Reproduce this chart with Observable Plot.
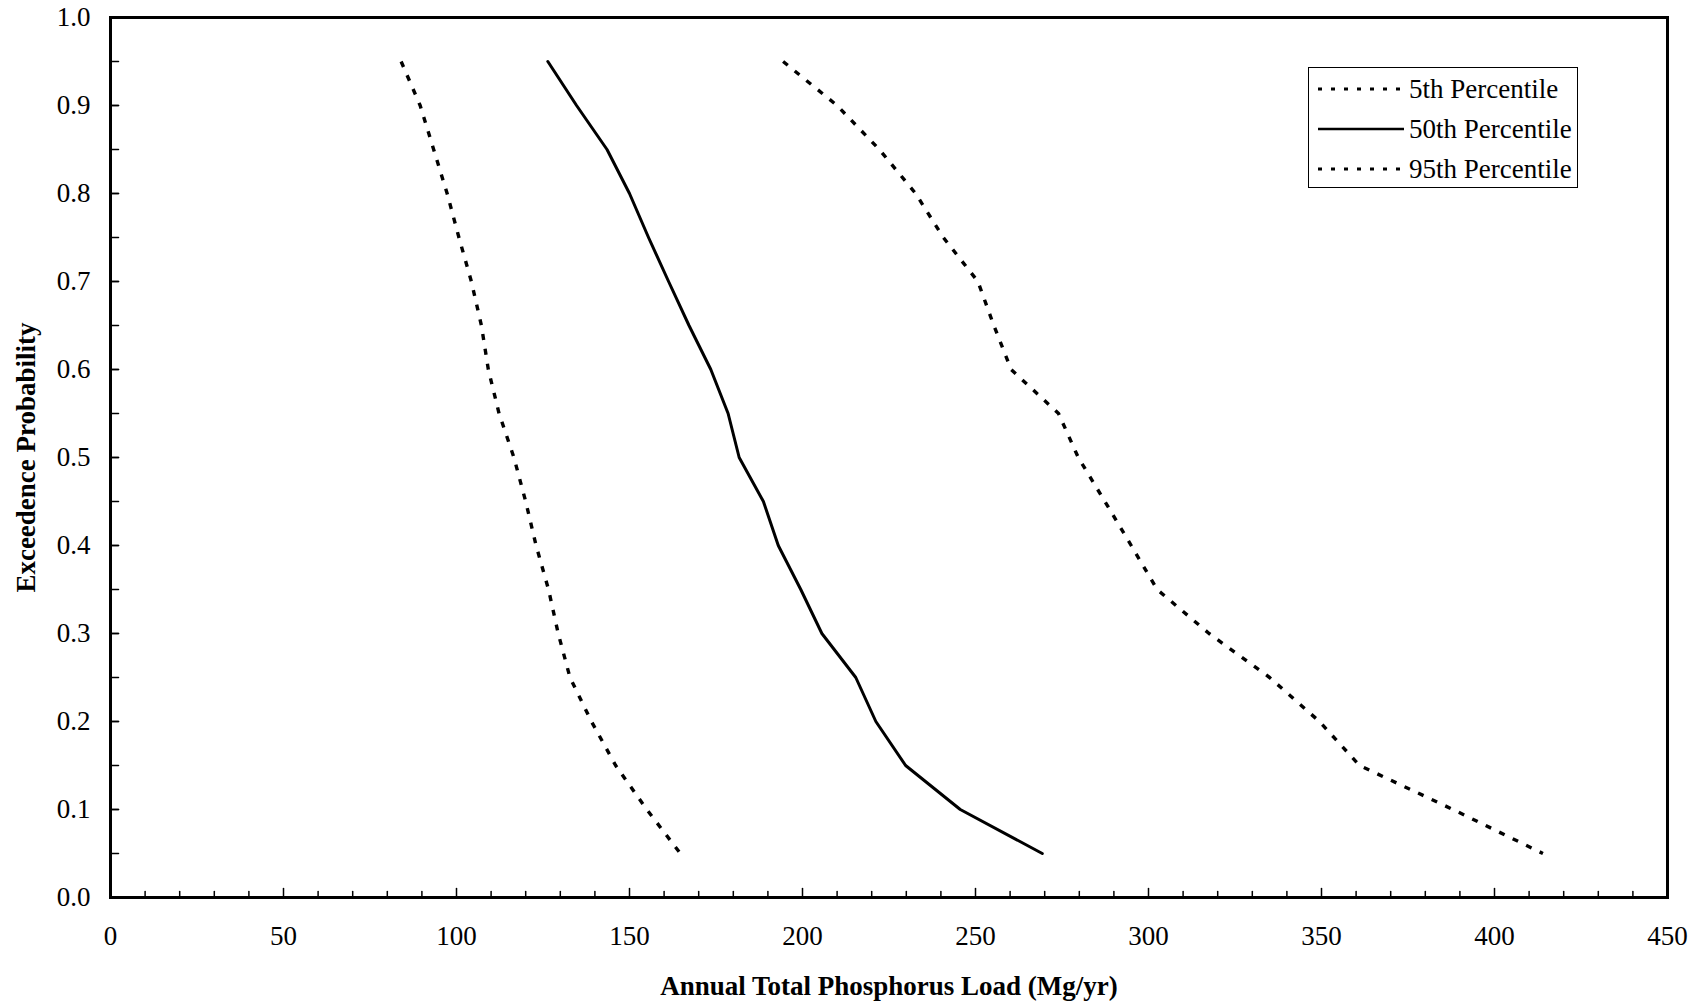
<!DOCTYPE html>
<html>
<head>
<meta charset="utf-8">
<script src="https://cdn.jsdelivr.net/npm/d3@7"></script>
<script src="https://cdn.jsdelivr.net/npm/@observablehq/plot@0.6"></script>
<style>
  html, body { margin: 0; padding: 0; background: #fff; }
  #wrap { position: relative; width: 1703px; height: 1004px; font-family: "Liberation Serif", "Times New Roman", serif; }
  #legend { position: absolute; left: 1308px; top: 67px; width: 268px; height: 119px; border: 1.5px solid #000; background: #fff; box-sizing: content-box; }
  #legend .row { position: absolute; left: 9px; height: 30px; display: flex; align-items: center; font-size: 27px; color: #000; white-space: nowrap; }
  #legend svg { display: block; margin-right: 5px; }
</style>
</head>
<body>
<div id="wrap"><div id="legend"></div></div>
<script>
// ---- data ----
const prob = [0.95, 0.90, 0.85, 0.80, 0.75, 0.70, 0.65, 0.60, 0.55, 0.50, 0.45, 0.40, 0.35, 0.30, 0.25, 0.20, 0.15, 0.10, 0.05];
const p5   = [84.0, 89.5, 93.4, 97.3, 100.7, 104.3, 107.2, 109.2, 112.3, 116.6, 120.0, 123.0, 126.6, 129.4, 132.8, 139.0, 146.0, 155.0, 164.7];
const p50  = [126.4, 134.7, 143.5, 150.0, 155.5, 161.3, 167.2, 173.5, 178.5, 181.7, 188.7, 193.0, 199.5, 205.6, 215.4, 221.2, 229.8, 245.6, 269.3];
const p95  = [194.4, 210.0, 222.2, 232.7, 240.7, 250.7, 255.3, 260.3, 274.0, 279.7, 287.4, 295.0, 302.5, 317.5, 335.0, 349.4, 361.0, 388.0, 414.0];
const seriesNames = ["5th Percentile", "50th Percentile", "95th Percentile"];
const xTicks = [0, 50, 100, 150, 200, 250, 300, 350, 400, 450];
const yTicks = [0, 0.1, 0.2, 0.3, 0.4, 0.5, 0.6, 0.7, 0.8, 0.9, 1.0];
const xMinorTicks = d3.range(10, 450, 10).filter(v => v % 50 !== 0);
const yMinorTicks = d3.range(0.05, 1.0, 0.05);
const xTitle = "Annual Total Phosphorus Load (Mg/yr)";
const yTitle = "Exceedence Probability";

// ---- build tables ----
const makeRows = (vals, name) => vals.map((v, i) => ({load: v, prob: prob[i], series: name}));
const rows5 = makeRows(p5, seriesNames[0]);
const rows50 = makeRows(p50, seriesNames[1]);
const rows95 = makeRows(p95, seriesNames[2]);

const tickShape = { draw(context, l) { context.moveTo(0, 0); context.lineTo(0, -l); } };
const DASH = "6,9";

const chart = Plot.plot({
  width: 1703,
  height: 1004,
  marginLeft: 110,
  marginRight: 36,
  marginTop: 17,
  marginBottom: 107,
  x: {domain: [0, 450]},
  y: {domain: [0, 1]},
  style: {fontFamily: '"Liberation Serif", "Times New Roman", serif', fontSize: "27px", color: "#000", background: "#fff"},
  marks: [
    Plot.axisX(xTicks, {tickSize: 0, tickPadding: 28, label: null, tickFormat: d => String(d)}),
    Plot.axisY(yTicks, {tickSize: 0, tickPadding: 20, label: null, tickFormat: d3.format(".1f")}),
    Plot.vector(xMinorTicks, {x: d => d, y: 0, length: 6, rotate: 0, anchor: "start", shape: tickShape, stroke: "#000", strokeWidth: 1.5}),
    Plot.vector(xTicks, {x: d => d, y: 0, length: 9, rotate: 0, anchor: "start", shape: tickShape, stroke: "#000", strokeWidth: 1.5}),
    Plot.vector(yMinorTicks.concat(yTicks), {x: 0, y: d => d, length: 8, rotate: 90, anchor: "start", shape: tickShape, stroke: "#000", strokeWidth: 1.5}),
    Plot.line(rows5, {x: "load", y: "prob", stroke: "#000", strokeWidth: 3.4, strokeDasharray: DASH, strokeLinecap: "butt"}),
    Plot.line(rows50, {x: "load", y: "prob", stroke: "#000", strokeWidth: 3}),
    Plot.line(rows95, {x: "load", y: "prob", stroke: "#000", strokeWidth: 3.4, strokeDasharray: DASH, strokeLinecap: "butt"}),
    Plot.frame({stroke: "#000", strokeWidth: 3}),
    Plot.text([xTitle], {frameAnchor: "bottom", dy: 97, textAnchor: "middle", text: d => d, fontWeight: "bold", fontSize: 27, fill: "#000"}),
    Plot.text([yTitle], {frameAnchor: "left", dx: -84, rotate: -90, textAnchor: "middle", text: d => d, fontWeight: "bold", fontSize: 27, fill: "#000"})
  ]
});
document.getElementById("wrap").prepend(chart);

// ---- legend ----
const legend = document.getElementById("legend");
const legendDash = ["4,9", null, "4,9"];
const rowTops = [6, 46, 86];
seriesNames.forEach((name, i) => {
  const row = document.createElement("div");
  row.className = "row";
  row.style.top = rowTops[i] + "px";
  const svg = d3.create("svg").attr("width", 86).attr("height", 10);
  svg.append("line").attr("x1", 0).attr("x2", 86).attr("y1", 5).attr("y2", 5)
    .attr("stroke", "#000").attr("stroke-width", i === 1 ? 2.5 : 3.2)
    .attr("stroke-dasharray", legendDash[i]);
  row.appendChild(svg.node());
  const span = document.createElement("span");
  span.textContent = name;
  row.appendChild(span);
  legend.appendChild(row);
});
</script>
</body>
</html>
